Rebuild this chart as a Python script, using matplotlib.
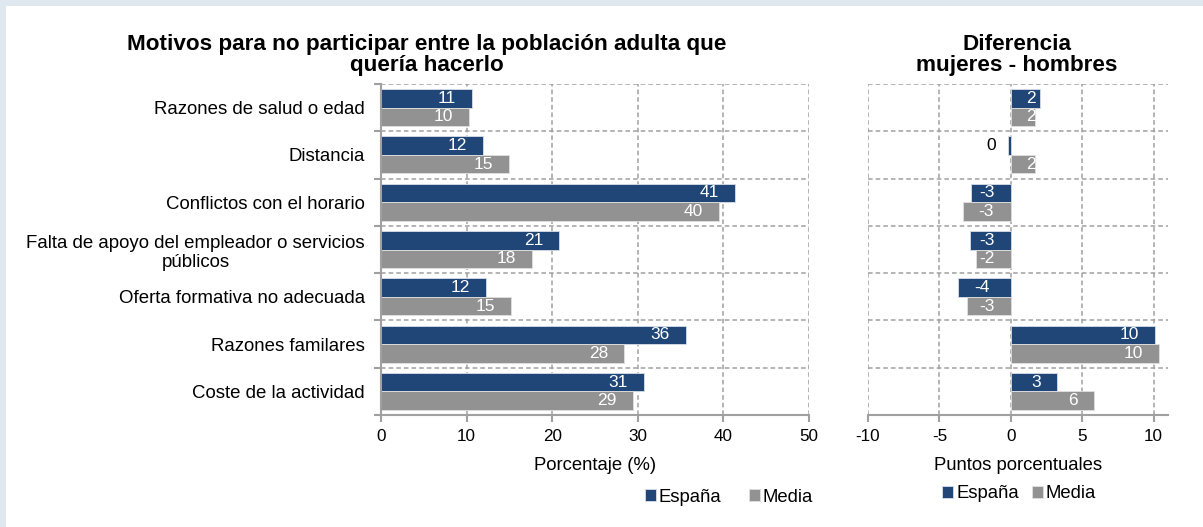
import matplotlib.pyplot as plt
import matplotlib.transforms as mtransforms
import numpy as np

plt.rcParams['font.family'] = ['Liberation Sans', 'DejaVu Sans']

categorias = ['Razones de salud o edad', 'Distancia', 'Conflictos con el horario',
              'Falta de apoyo del empleador o servicios\npúblicos',
              'Oferta formativa no adecuada', 'Razones familares', 'Coste de la actividad']
espana_pct = [10.6, 11.9, 41.3, 20.8, 12.3, 35.6, 30.7]
media_pct = [10.3, 15.0, 39.5, 17.6, 15.2, 28.4, 29.4]
espana_dif = [2.03, -0.19, -2.78, -2.87, -3.69, 10.1, 3.2]
media_dif = [1.68, 1.7, -3.38, -2.43, -3.08, 10.36, 5.83]

AZUL = '#1f4677'
GRIS = '#929292'
LINEA = '#a0a0a0'
FS_TICK = 12.3
FS_DATO = 12.5
FS_CAT = 13.4
FS_LAB = 13.3
FS_TIT = 16.2

W = 1203.0
H = 527.0


def etiquetas(ax, bars, vals):
    # posicion de la etiqueta en pixeles respecto al cero del eje
    x0, x1 = ax.get_xlim()
    ppu = ax.get_window_extent().width / (x1 - x0)
    em = FS_DATO * 100 / 72
    for b, v in zip(bars, vals):
        y = b.get_y() + b.get_height() / 2
        txt = f'{v:.0f}'
        if txt == '-0':
            txt = '0'
        tw = sum(0.333 * em if c == '-' else 0.556 * em for c in txt)
        px = v * ppu
        if abs(v) < 0.5:
            off, ha, col = -15, 'right', 'black'
        elif v >= 0:
            off, ha, col = max(px - 16, tw + 15), 'right', 'white'
        else:
            off, ha, col = min(px + 16, -(tw + 16)), 'left', 'white'
        trans = mtransforms.blended_transform_factory(
            ax.transData + mtransforms.ScaledTranslation(off / 100, 0, ax.figure.dpi_scale_trans),
            ax.transData)
        ax.text(0, y, txt, ha=ha, va='center', color=col, fontsize=FS_DATO, transform=trans)


def dibujar(ax, esp, med, xlim, ticks):
    n = len(esp)
    pos = np.arange(n)
    h = 0.39
    b1 = ax.barh(pos - h / 2, esp, height=h, color=AZUL, edgecolor='#d8dee8', linewidth=0.6)
    b2 = ax.barh(pos + h / 2, med, height=h, color=GRIS, edgecolor='#e0e0e0', linewidth=0.6)
    ax.set_ylim(n - 0.5, -0.5)
    ax.set_xlim(*xlim)
    ax.set_xticks(ticks)
    ax.set_xticklabels([str(t) for t in ticks], fontsize=FS_TICK)
    # cuadricula discontinua
    for t in ticks:
        ax.axvline(t, color=LINEA, ls=(0, (3, 2)), lw=1.1, zorder=0)
    for yb in np.arange(-0.5, n, 1.0):
        ax.axhline(yb, color=LINEA, ls=(0, (3, 2)), lw=1.1, zorder=0)
    for s in ['top', 'right', 'left']:
        ax.spines[s].set_visible(False)
    ax.spines['bottom'].set_color(LINEA)
    ax.spines['bottom'].set_linewidth(1.5)
    ax.tick_params(axis='x', color=LINEA, length=5, width=1.5, pad=5)
    etiquetas(ax, b1, esp)
    etiquetas(ax, b2, med)
    return b1, b2


fig = plt.figure(figsize=(12.03, 5.27), dpi=100)
fig.patch.set_facecolor('#dfe8ef')
fig.add_artist(plt.Rectangle((6 / W, 0), 1, 1 - 6 / H, transform=fig.transFigure,
                             facecolor='white', edgecolor='none', zorder=-1))

ax1 = fig.add_axes([381 / W, 1 - 415 / H, (809 - 381) / W, (415 - 84) / H])
ax2 = fig.add_axes([868 / W, 1 - 415 / H, (1168 - 868) / W, (415 - 84) / H])

b1, b2 = dibujar(ax1, espana_pct, media_pct, (0, 50), [0, 10, 20, 30, 40, 50])
ax1.spines['left'].set_visible(True)
ax1.spines['left'].set_color(LINEA)
ax1.spines['left'].set_linewidth(1.5)
ax1.set_yticks(np.arange(-0.5, len(categorias), 1.0))
ax1.set_yticklabels([])
ax1.set_yticks(np.arange(len(categorias)), minor=True)
ax1.set_yticklabels(categorias, minor=True, fontsize=FS_CAT, multialignment='center')
ax1.tick_params(axis='y', which='major', color=LINEA, length=5, width=1.5)
ax1.tick_params(axis='y', which='minor', length=0, pad=11.5)

c1, c2 = dibujar(ax2, espana_dif, media_dif, (-10, 11), [-10, -5, 0, 5, 10])
ax2.set_yticks([])

# titulos
fig.text(427 / W, 1 - 55 / H, 'Motivos para no participar entre la población adulta que\nquería hacerlo',
         ha='center', va='center', fontsize=FS_TIT, fontweight='bold', linespacing=1.05)
fig.text(1017 / W, 1 - 55 / H, 'Diferencia\nmujeres - hombres',
         ha='center', va='center', fontsize=FS_TIT, fontweight='bold', linespacing=1.05)

# titulos de ejes
fig.text(595 / W, 1 - 466 / H, 'Porcentaje (%)', ha='center', va='center', fontsize=FS_LAB)
fig.text(1018 / W, 1 - 466 / H, 'Puntos porcentuales', ha='center', va='center', fontsize=FS_LAB)

# leyendas
fig.legend([b1, b2], ['España', 'Media'], loc='center', bbox_to_anchor=(729 / W, 1 - 497 / H),
           ncol=2, frameon=False, fontsize=FS_LAB, handlelength=0.6, handleheight=0.6,
           handletextpad=0.15, columnspacing=1.5, borderpad=0)
fig.legend([c1, c2], ['España', 'Media'], loc='center', bbox_to_anchor=(1019 / W, 1 - 494 / H),
           ncol=2, frameon=False, fontsize=FS_LAB, handlelength=0.6, handleheight=0.6,
           handletextpad=0.15, columnspacing=0.7, borderpad=0)

fig.savefig('out.png', dpi=100, facecolor=fig.get_facecolor())
